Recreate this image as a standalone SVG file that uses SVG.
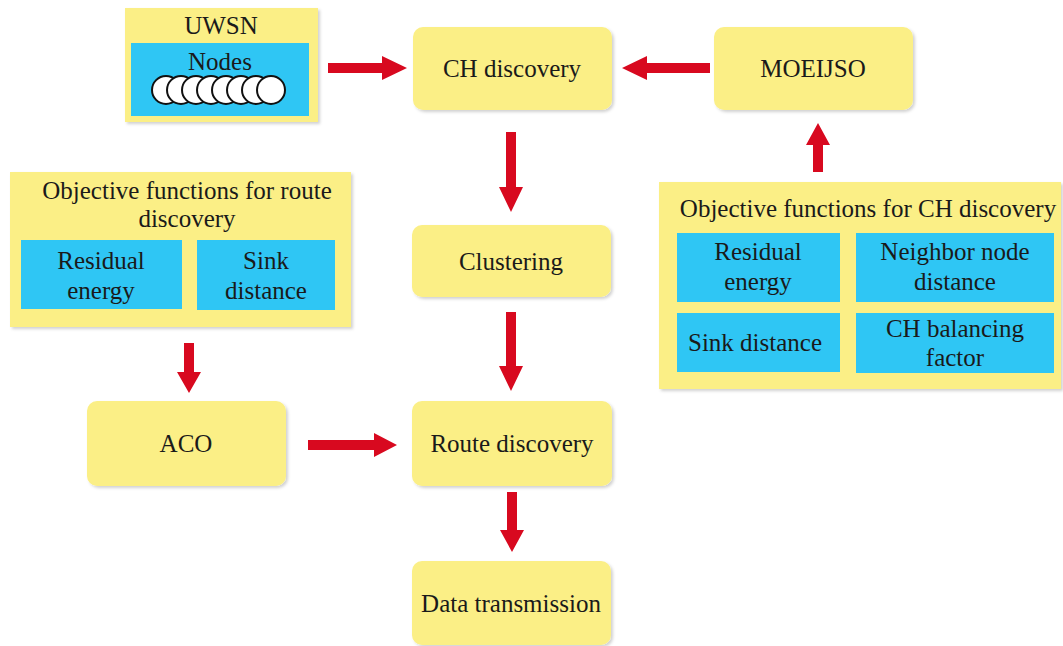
<svg xmlns="http://www.w3.org/2000/svg" width="1063" height="646" viewBox="0 0 1063 646">
<style>
.y{fill:#fbef86}
.b{fill:#2fc6f4}
.t{font-family:'Liberation Serif','Times New Roman',serif;font-size:25px;fill:#1a1a1a;text-anchor:middle;dominant-baseline:central}
.a{fill:#d8091f}
.c{fill:#fff;stroke:#111;stroke-width:2}
</style>
<defs>
<filter id="sh" x="-10%" y="-10%" width="130%" height="130%">
<feDropShadow dx="2" dy="2" stdDeviation="1.5" flood-color="#000" flood-opacity="0.18"/>
</filter>
</defs>
<g id="uwsn">
<rect class="y" x="125" y="8" width="193" height="114" filter="url(#sh)"/>
<text class="t" x="221" y="25">UWSN</text>
<rect class="b" x="131" y="43" width="178" height="73"/>
<text class="t" x="220" y="61">Nodes</text>
<circle class="c" cx="166" cy="90" r="14"/>
<circle class="c" cx="181" cy="90" r="14"/>
<circle class="c" cx="196" cy="90" r="14"/>
<circle class="c" cx="211" cy="90" r="14"/>
<circle class="c" cx="226" cy="90" r="14"/>
<circle class="c" cx="241" cy="90" r="14"/>
<circle class="c" cx="256" cy="90" r="14"/>
<circle class="c" cx="271" cy="90" r="14"/>
</g>
<g id="ch">
<rect class="y" x="413" y="27" width="199" height="83" rx="10" filter="url(#sh)"/>
<text class="t" x="512" y="68">CH discovery</text>
</g>
<g id="moeijso">
<rect class="y" x="714" y="27" width="199" height="83" rx="10" filter="url(#sh)"/>
<text class="t" x="813" y="68">MOEIJSO</text>
</g>
<g id="objroute">
<rect class="y" x="10" y="172" width="341" height="155" filter="url(#sh)"/>
<text class="t" x="187" y="190">Objective functions for route</text>
<text class="t" x="187" y="218">discovery</text>
<rect class="b" x="21" y="240" width="161" height="69"/>
<text class="t" x="101" y="260">Residual</text>
<text class="t" x="101" y="290">energy</text>
<rect class="b" x="197" y="240" width="138" height="70"/>
<text class="t" x="266" y="260">Sink</text>
<text class="t" x="266" y="290">distance</text>
</g>
<g id="objch">
<rect class="y" x="659" y="182" width="402" height="207" filter="url(#sh)"/>
<text class="t" x="868" y="208">Objective functions for CH discovery</text>
<rect class="b" x="677" y="233" width="163" height="69"/>
<text class="t" x="758" y="251">Residual</text>
<text class="t" x="758" y="281">energy</text>
<rect class="b" x="856" y="233" width="198" height="69"/>
<text class="t" x="955" y="251">Neighbor node</text>
<text class="t" x="955" y="281">distance</text>
<rect class="b" x="677" y="313" width="163" height="59"/>
<text class="t" x="755" y="342">Sink distance</text>
<rect class="b" x="856" y="313" width="198" height="60"/>
<text class="t" x="955" y="328">CH balancing</text>
<text class="t" x="955" y="357">factor</text>
</g>
<g id="clustering">
<rect class="y" x="412" y="225" width="199" height="72" rx="10" filter="url(#sh)"/>
<text class="t" x="511" y="261">Clustering</text>
</g>
<g id="aco">
<rect class="y" x="87" y="401" width="199" height="85" rx="10" filter="url(#sh)"/>
<text class="t" x="186" y="443">ACO</text>
</g>
<g id="route">
<rect class="y" x="412" y="401" width="200" height="85" rx="10" filter="url(#sh)"/>
<text class="t" x="512" y="443">Route discovery</text>
</g>
<g id="data">
<rect class="y" x="412" y="561" width="199" height="84" rx="10" filter="url(#sh)"/>
<text class="t" x="511" y="603">Data transmission</text>
</g>
<g id="connectors">
<polygon class="a" points="328,63 382,63 382,56 407,68 382,80 382,73 328,73"/>
<polygon class="a" points="710,63 647,63 647,56 622,68 647,80 647,73 710,73"/>
<polygon class="a" points="813,172 813,145 806,145 818,123 830,145 823,145 823,172"/>
<polygon class="a" points="506,132 506,187 499,187 511,212 523,187 516,187 516,132"/>
<polygon class="a" points="506,312 506,366 499,366 511,391 523,366 516,366 516,312"/>
<polygon class="a" points="507,492 507,530 500,530 512,552 524,530 517,530 517,492"/>
<polygon class="a" points="184,343 184,372 177,372 189,393 201,372 194,372 194,343"/>
<polygon class="a" points="308,440 374,440 374,433 397,445 374,457 374,450 308,450"/>
</g>
</svg>
